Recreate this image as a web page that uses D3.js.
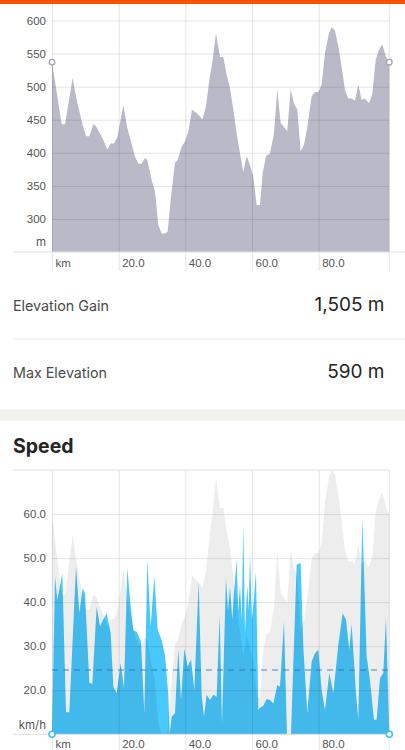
<!DOCTYPE html>
<html><head><meta charset="utf-8">
<script src="https://cdn.jsdelivr.net/npm/d3@7"></script>
<style>
body{margin:0;background:#fff;}
svg{display:block;font-family:Inter,"Noto Sans",sans-serif;}
</style>
</head><body>
<svg id="c" width="405" height="750"></svg>
<script>
// ---- data ----
const elevKm = [0,2.9,3.9,6.2,7.4,9.2,10.2,11.2,12.4,13.2,
14.4,15.6,16.6,17.6,18.6,19.6,20.6,21.4,22.6,23.6,
24.9,25.9,26.9,27.9,28.6,29.9,30.9,31.9,32.9,33.9,
34.7,35.7,36.9,37.7,38.9,39.9,40.9,42.0,43.4,44.4,
45.1,46.2,47.2,48.2,49.2,50.4,51.4,52.4,53.4,54.4,
55.4,56.4,57.4,58.4,59.4,60.4,61.4,62.4,63.2,64.2,
65.4,66.6,67.6,68.6,69.6,70.6,71.6,72.6,73.6,74.6,
75.6,76.6,77.9,78.9,79.9,80.9,81.9,83.1,83.9,84.9,
85.9,86.9,87.9,88.9,89.9,90.9,91.9,92.9,93.9,95.1,
96.1,97.1,98.1,99.1,100.2,101.2];
const elevM = [537,443,443,513,480,442,425,425,443,440,
429,417,405,414,414,424,450,472,437,419,
394,384,383,392,389,359,341,291,278,278,
281,333,385,389,409,417,432,465,460,455,
450,470,510,540,581,545,545,518,498,465,
429,399,371,395,381,364,321,321,369,395,
399,429,496,445,439,433,496,474,465,402,
412,439,485,492,492,503,551,581,590,585,
561,530,495,482,482,479,503,480,482,475,
488,540,556,564,545,537];

const speedKm = [0,0.9,1.6,2.2,3.1,4.2,5.2,7.2,8.2,9.2,
9.9,11.2,12.1,13.4,14.4,15.4,16.4,17.6,18.4,19.4,
20.6,21.6,22.6,23.6,24.4,25.4,26.7,27.7,28.6,29.6,
30.7,31.7,32.9,33.9,34.9,35.3,35.9,36.9,37.9,38.7,
39.7,40.7,41.7,42.7,44.0,44.9,45.6,46.4,47.4,48.4,
49.4,50.3,51.0,52.2,52.8,53.4,54.1,54.6,55.4,55.9,
56.4,56.9,57.4,57.9,58.6,59.0,59.4,60.0,60.6,61.2,
61.9,62.4,63.4,64.4,65.4,66.4,67.6,68.4,69.6,70.5,
71.7,73.4,74.6,75.4,76.6,77.9,78.9,79.9,80.9,81.9,
83.2,84.4,85.9,87.2,88.2,89.2,89.9,91.2,91.9,93.1,
94.4,95.4,96.6,97.4,98.4,99.4,100.2,101.2];
const speedKmh = [0,45.8,40.5,42.8,46.6,15,15,48.1,37.5,43.2,
42,21.7,21.4,39,34.5,36.1,37.5,33,20.8,19.3,
26.2,20.5,47.7,39,33.6,33.3,31,14.8,49.6,34.5,
45.8,33.7,31.4,28,19,9,14,14.8,29.5,17.8,
29.5,25.4,27,20,44.7,19,14,19,17.8,19,
18.5,37,12.5,45.5,38,43.5,36,42,49.6,38,
44,36,57.6,33,44,38,50.7,36,41,47,
15.5,16,16.5,18,17.8,17,21.2,20.8,35.6,3,
3,48.5,48.9,29.9,14.8,26.5,28.4,29.2,20,15.5,
23.9,19.3,30.3,37.5,36,29.2,35,19.3,13.3,59.1,
27.7,22.3,13.3,13.3,22.7,23.9,36.4,0];

const avgSpeed = 24.6;
const distTicks = [0,20,40,60,80];
const elevTicks = [300,350,400,450,500,550,600];
const speedTicks = [20,30,40,50,60];
const statLabels = ["Elevation Gain","Max Elevation"];
const statValues = ["1,505 m","590 m"];
const sectionTitle = "Speed";

// ---- drawing ----
const svg = d3.select("#c");
const X0 = 52, X1 = 389.3;
const x = d3.scaleLinear().domain([0,101.2]).range([X0,X1]);
const gridCol = "rgba(0,0,0,0.1)";
const labCol = "#555";
const axFont = 11.5;

// orange header bar
svg.append("rect").attr("x",0).attr("y",0).attr("width",405).attr("height",4).attr("fill","#fc5200");

// ===== Elevation chart =====
const E_TOP = 4, E_BOT = 252;
const yE = d3.scaleLinear().domain([250,625]).range([E_BOT,E_TOP]);
const elev = elevKm.map((k,i)=>({k, v:elevM[i]}));

svg.append("path").datum(elev)
  .attr("fill","#b9b9c8")
  .attr("d", d3.area().x(d=>x(d.k)).y0(E_BOT).y1(d=>yE(d.v)));

const gyE = svg.append("g").attr("transform",`translate(${X0},0)`)
  .call(d3.axisLeft(yE).tickValues(elevTicks).tickSize(-(X1-X0)).tickPadding(6));
gyE.select(".domain").remove();
gyE.selectAll("line").attr("stroke",gridCol);
gyE.selectAll("text").attr("fill",labCol).attr("font-size",axFont);
svg.append("text").attr("x",X0-6).attr("y",E_BOT-6.5).attr("text-anchor","end")
  .attr("fill",labCol).attr("font-size",axFont).text("m");

function xAxis(bottom, top, labelY){
  const g = svg.append("g").attr("transform",`translate(0,${bottom})`)
    .call(d3.axisBottom(x).tickValues(distTicks).tickSize(-(bottom-top)));
  g.select(".domain").remove();
  g.selectAll("line").attr("stroke",gridCol);
  g.selectAll("text").attr("fill",labCol).attr("font-size",axFont)
    .attr("text-anchor","start").attr("x",3).attr("dy",0).attr("y",labelY-bottom)
    .text(d=> d===0 ? "km" : d3.format(".1f")(d));
  svg.append("line").attr("x1",X1).attr("x2",X1).attr("y1",top).attr("y2",bottom).attr("stroke",gridCol);
}
xAxis(271, E_TOP, 266.5);
svg.append("line").attr("x1",13).attr("x2",405).attr("y1",E_BOT).attr("y2",E_BOT).attr("stroke","#dedede");

// end markers
[elev[0], elev[elev.length-1]].forEach(d=>{
  svg.append("circle").attr("cx",x(d.k)).attr("cy",yE(d.v)).attr("r",2.8)
    .attr("fill","#fff").attr("stroke","#a3a3ba").attr("stroke-width",1.3);
});

// ===== Stats rows =====
const rowBase = [310.5, 378];
statLabels.forEach((t,i)=>{
  svg.append("text").attr("x",13).attr("y",rowBase[i]).attr("font-size",14.3).attr("fill","#4a4a4a").text(t);
  svg.append("text").attr("x",384.5).attr("y",rowBase[i]).attr("text-anchor","end")
    .attr("font-size",19).attr("fill","#242424").text(statValues[i]);
});
svg.append("line").attr("x1",13).attr("x2",405).attr("y1",339).attr("y2",339).attr("stroke","#e6e6e6");
svg.append("rect").attr("x",0).attr("y",409.3).attr("width",405).attr("height",11.4).attr("fill","#f3f2ee");
svg.append("text").attr("x",13).attr("y",452.5).attr("font-size",19.5).attr("font-weight",700)
  .attr("fill","#242424").text(sectionTitle);

// ===== Speed chart =====
const S_TOP = 470, S_BOT = 734.3;
const yS = d3.scaleLinear().domain([10,70]).range([S_BOT,S_TOP]).clamp(true);
const yG = d3.scaleLinear().domain(d3.extent(elevM)).range([S_BOT,S_TOP]).clamp(true);
const speed = speedKm.map((k,i)=>({k, v:speedKmh[i]}));

svg.append("path").datum(speed)
  .attr("fill","#48c8fc")
  .attr("d", d3.area().x(d=>x(d.k)).y0(S_BOT).y1(d=>yS(d.v)));
svg.append("path").datum(elev)
  .attr("fill","rgba(0,0,0,0.07)")
  .attr("d", d3.area().x(d=>x(d.k)).y0(S_BOT).y1(d=>yG(d.v)));

const gyS = svg.append("g").attr("transform",`translate(${X0},0)`)
  .call(d3.axisLeft(yS).tickValues(speedTicks).tickSize(-(X1-X0)).tickPadding(6).tickFormat(d3.format(".1f")));
gyS.select(".domain").remove();
gyS.selectAll("line").attr("stroke",gridCol);
gyS.selectAll("text").attr("fill",labCol).attr("font-size",axFont);
svg.append("text").attr("x",X0-6).attr("y",S_BOT-5).attr("text-anchor","end")
  .attr("fill",labCol).attr("font-size",axFont).text("km/h");

xAxis(752, S_TOP, 747.5);
svg.append("line").attr("x1",13).attr("x2",X1).attr("y1",S_TOP).attr("y2",S_TOP).attr("stroke","#dedede");
svg.append("line").attr("x1",13).attr("x2",X1).attr("y1",S_BOT).attr("y2",S_BOT).attr("stroke","#dedede");

// average line
svg.append("line").attr("x1",X0).attr("x2",X1).attr("y1",yS(avgSpeed)).attr("y2",yS(avgSpeed))
  .attr("stroke","rgba(40,110,190,0.55)").attr("stroke-width",1.6).attr("stroke-dasharray","6,5");

[speed[0], speed[speed.length-1]].forEach(d=>{
  svg.append("circle").attr("cx",x(d.k)).attr("cy",yS(d.v)).attr("r",3)
    .attr("fill","#fff").attr("stroke","#3dbdf5").attr("stroke-width",1.6);
});
</script>
</body></html>
